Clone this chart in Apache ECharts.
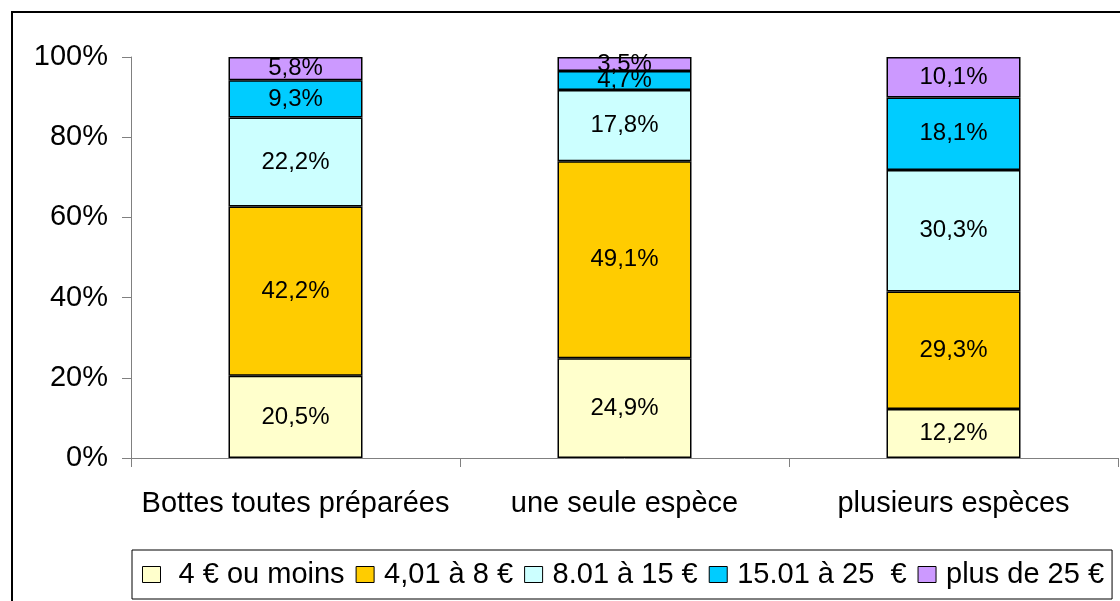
<!DOCTYPE html>
<html><head><meta charset="utf-8">
<script src="https://cdn.jsdelivr.net/npm/echarts@6/dist/echarts.min.js"></script>
<style>html,body{margin:0;padding:0;background:#fff}#c{width:1120px;height:601px}</style>
</head><body><div id="c"></div>
<script>
const categories = ['Bottes toutes préparées', 'une seule espèce', 'plusieurs espèces'];
const seriesNames = [' 4 € ou moins', '4,01 à 8 €', '8.01 à 15 €', '15.01 à 25  €', 'plus de 25 €'];
const s1 = [20.5, 24.9, 12.2];
const s2 = [42.2, 49.1, 29.3];
const s3 = [22.2, 17.8, 30.3];
const s4 = [9.3, 4.7, 18.1];
const s5 = [5.8, 3.5, 10.1];
const yTicks = [0, 20, 40, 60, 80, 100];
const colors = ['#FFFFCC', '#FFCC00', '#CCFFFF', '#00CCFF', '#CC99FF'];
const font = 'Liberation Sans, Arial, sans-serif';
const allData = [s1, s2, s3, s4, s5];
const chart = echarts.init(document.getElementById('c'));
chart.setOption({
  animation: false,
  backgroundColor: '#fff',
  graphic: [{type: 'rect', shape: {x: 12, y: 12, width: 1120, height: 620}, style: {fill: 'none', stroke: '#000', lineWidth: 2}, z: -1}],
  grid: {left: 131, right: 2, top: 57, bottom: 143, containLabel: false},
  legend: {
    data: seriesNames, left: 132, top: 550, orient: 'horizontal',
    itemWidth: 18, itemHeight: 16, itemGap: 11,
    borderColor: '#000', borderWidth: 1, padding: [10, 8, 10, 10],
    textStyle: {fontFamily: font, fontSize: 29, color: '#000', padding: [0, 0, 0, 5]},
    itemStyle: {borderColor: '#000', borderWidth: 1},
    icon: 'rect'
  },
  xAxis: {
    type: 'category', data: categories,
    axisLine: {lineStyle: {color: '#808080', width: 1}},
    axisTick: {show: true, length: 9, lineStyle: {color: '#808080'}},
    axisLabel: {interval: 0, fontFamily: font, fontSize: 29, color: '#000', margin: 31}
  },
  yAxis: {
    type: 'value', min: 0, max: 100, interval: 20,
    axisLine: {show: true, lineStyle: {color: '#808080', width: 1}},
    axisTick: {show: true, length: 9, lineStyle: {color: '#808080'}},
    splitLine: {show: false},
    axisLabel: {fontFamily: font, fontSize: 29, color: '#000', margin: 23, formatter: v => yTicks.includes(v) ? v + '%' : ''}
  },
  series: allData.map((d, i) => ({
    name: seriesNames[i], type: 'bar', stack: 'total', data: d, barWidth: 134,
    itemStyle: {color: colors[i], borderColor: '#000', borderWidth: 1.5},
    label: {show: true, position: 'inside', fontFamily: font, fontSize: 24, color: '#000',
      formatter: p => p.value.toFixed(1).replace('.', ',') + '%'}
  }))
});
</script></body></html>
